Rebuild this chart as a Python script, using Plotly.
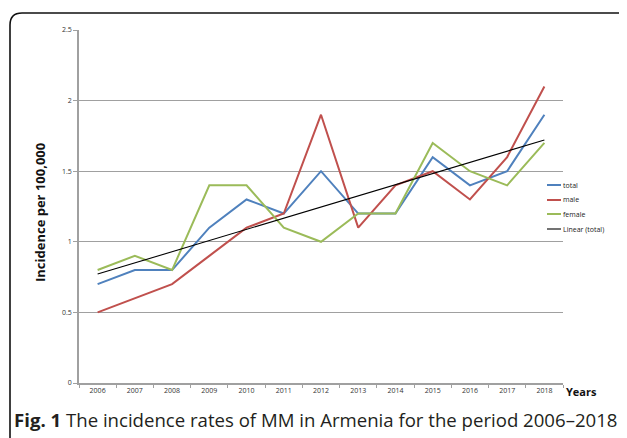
import numpy as np
import plotly.graph_objects as go

years = ["2006", "2007", "2008", "2009", "2010", "2011", "2012",
         "2013", "2014", "2015", "2016", "2017", "2018"]
total = [0.7, 0.8, 0.8, 1.1, 1.3, 1.2, 1.5, 1.2, 1.2, 1.6, 1.4, 1.5, 1.9]
male = [0.5, 0.6, 0.7, 0.9, 1.1, 1.2, 1.9, 1.1, 1.4, 1.5, 1.3, 1.6, 2.1]
female = [0.8, 0.9, 0.8, 1.4, 1.4, 1.1, 1.0, 1.2, 1.2, 1.7, 1.5, 1.4, 1.7]
series_names = ["total", "male", "female", "Linear (total)"]
colors = ["#4F81BD", "#C0504D", "#9BBB59", "#000000"]
y_ticks = [0, 0.5, 1, 1.5, 2, 2.5]

# linear trendline of total
xi = np.arange(1, len(total) + 1)
slope, intercept = np.polyfit(xi, total, 1)
trend = list(slope * xi + intercept)

OFF = 8  # page body margin
W, H = 627 - OFF, 438 - OFF
L, T = 79 - OFF, 30 - OFF
R = W - (563 - OFF)
B = H - (383 - OFF)
pw, ph = W - L - R, H - T - B


def px(x):
    return (x - OFF - L) / pw


def py(y):
    return (H - B - (y - OFF)) / ph


fig = go.Figure()
for name, vals, col, w in zip(series_names, [total, male, female, trend], colors,
                              [2, 2, 2, 1.1]):
    fig.add_trace(go.Scatter(x=years, y=vals, mode="lines", name=name,
                             line=dict(color=col, width=w), showlegend=False))

shapes = []
annotations = []
# manual legend
leg_y = [185, 200, 214, 229]
for name, col, yy, w in zip(series_names, colors, leg_y, [2, 2, 2, 1.1]):
    shapes.append(dict(type="line", xref="paper", yref="paper",
                       x0=px(547), x1=px(561), y0=py(yy), y1=py(yy),
                       line=dict(color=col, width=w)))
    annotations.append(dict(text=name, xref="paper", yref="paper",
                            x=px(561), y=py(yy), xanchor="left", yanchor="middle",
                            showarrow=False,
                            font=dict(family="Open Sans", size=7, color="#222")))

# rounded frame
l, t, b, r = px(10), py(13), py(450), px(650)
rx, ry = 12 / pw, 12 / ph
shapes.append(dict(type="path", xref="paper", yref="paper",
                   path=f"M {l},{b} L {l},{t - ry} Q {l},{t} {l + rx},{t} L {r},{t}",
                   line=dict(color="#111", width=1.6)))

annotations.append(dict(text="<b>Years</b>", xref="paper", yref="paper",
                        x=px(564), y=py(392), xanchor="left", yanchor="middle",
                        showarrow=False,
                        font=dict(family="Open Sans", size=11, color="#111")))
annotations.append(dict(text="<b>Incidence per 100,000</b>", xref="paper", yref="paper",
                        x=px(40), y=py(213), xanchor="center", yanchor="middle",
                        textangle=-90, showarrow=False,
                        font=dict(family="Open Sans", size=13, color="#111")))
annotations.append(dict(text="<b>Fig. 1</b> The incidence rates of MM in Armenia for the period 2006–2018",
                        xref="paper", yref="paper",
                        x=px(12), y=py(419), xanchor="left", yanchor="middle",
                        showarrow=False,
                        font=dict(family="Open Sans", size=18.6, color="#231f20")))

fig.update_layout(
    width=W, height=H,
    margin=dict(l=L, r=R, t=T, b=B),
    paper_bgcolor="white", plot_bgcolor="white",
    shapes=shapes, annotations=annotations,
    xaxis=dict(type="category", range=[-0.5, len(years) - 0.5], showgrid=False,
               showline=True, linecolor="#a0a0a0",
               linewidth=1.5, ticks="outside", tickson="boundaries", ticklen=3,
               tickcolor="#a0a0a0",
               tickfont=dict(family="Open Sans", size=7, color="#333")),
    yaxis=dict(range=[0, 2.5], tickvals=y_ticks, showgrid=True, gridcolor="#a0a0a0",
               gridwidth=1.2, showline=True, linecolor="#a0a0a0", linewidth=1.5,
               ticks="outside", ticklen=4, tickcolor="#a0a0a0", zeroline=False,
               tickfont=dict(family="Open Sans", size=7, color="#333")),
)

fig.write_html("out.html")
